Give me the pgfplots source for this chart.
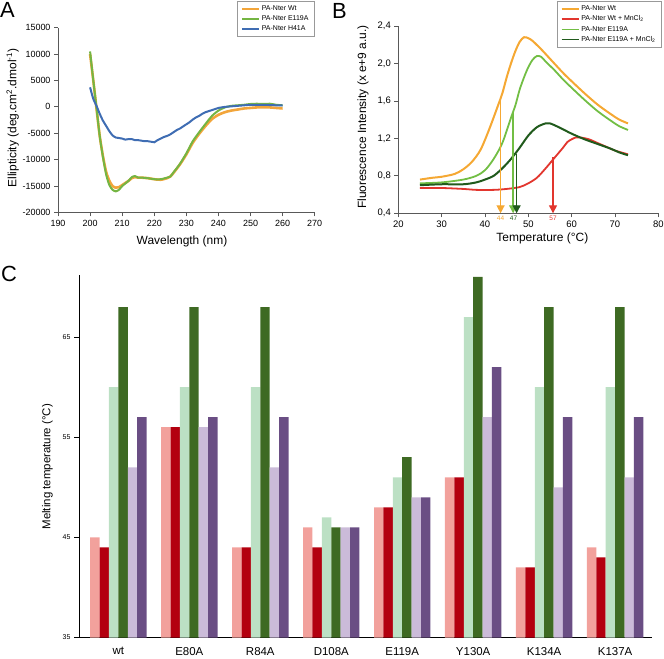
\documentclass[border=0pt]{standalone}
\usepackage{fontspec}
\setmainfont{Liberation Sans}
\usepackage{pgfplots}
\pgfplotsset{compat=1.18}
\usetikzlibrary{arrows.meta}
\definecolor{aorange}{HTML}{F2A53A}
\definecolor{agreen}{HTML}{74B543}
\definecolor{ablue}{HTML}{3F6DB3}
\definecolor{borange}{HTML}{F5A833}
\definecolor{bred}{HTML}{E2362E}
\definecolor{bgreen}{HTML}{72BE44}
\definecolor{bdgreen}{HTML}{205A1C}
\definecolor{cpink}{HTML}{F2A19C}
\definecolor{cred}{HTML}{B3000F}
\definecolor{clgreen}{HTML}{BCE0C4}
\definecolor{cdgreen}{HTML}{3E6A23}
\definecolor{clpurple}{HTML}{CBBBD9}
\definecolor{cpurple}{HTML}{6A4E84}
\pgfplotsset{
  every axis/.append style={/pgf/number format/assume math mode=true},
  mylegend/.style={
    legend cell align=left,
    legend style={draw=gray!80, line width=0.6bp, fill=white,
      font=\fontsize{7}{8}\selectfont, inner xsep=4bp, inner ysep=2.5bp,
      nodes={inner sep=1.9bp}},
    legend image code/.code={\draw[##1, line width=1.5bp] (0bp,0bp) -- (17bp,0bp);},
  },
}
\begin{document}
\begin{tikzpicture}[x=1bp,y=1bp]
\path[use as bounding box] (0,0) rectangle (664,659);
% panel letters
\node[anchor=north west, inner sep=0pt, font=\fontsize{22}{22}\selectfont] at (0,657) {A};
\node[anchor=north west, inner sep=0pt, font=\fontsize{22}{22}\selectfont] at (332,656) {B};
\node[anchor=north west, inner sep=0pt, font=\fontsize{22}{22}\selectfont] at (1,393) {C};

% ---------------- Panel A ----------------
\begin{axis}[
  at={(58bp,446.5bp)}, anchor=south west, scale only axis,
  width=256.7bp, height=184.8bp,
  xmin=190, xmax=270, ymin=-20000, ymax=15000,
  xtick={190,200,...,270}, ytick={-20000,-15000,...,15000},
  scaled y ticks=false,
  yticklabel style={/pgf/number format/1000 sep={}},
  axis lines*=left, axis line style={-, draw=gray!70!black, line width=0.8bp},
  tick align=outside, major tick length=4bp,
  tick style={draw=gray!70!black, line width=0.8bp},
  ticklabel style={font=\fontsize{9}{10}\selectfont},
  xlabel={Wavelength (nm)},
  ylabel={Ellipticity (deg.cm\textsuperscript{2}.dmol\textsuperscript{-1})},
  label style={font=\fontsize{12}{13}\selectfont},
  xlabel style={at={(axis description cs:0.483,-0.158)}, anchor=center},
  ylabel style={at={(axis description cs:-0.1765,0.511)}, anchor=center},
  mylegend,
  legend style={at={(1.0,1.1445)}, anchor=north east},
]
\addplot[aorange, line width=2.6bp, smooth, tension=0.4] coordinates {
(200,10000)(201,5000)(202,-300)(203,-5500)(204,-9300)(205,-12300)(206,-14000)(207,-15000)(208,-15300)(209,-15200)(210,-14800)(211,-14400)(212,-14000)(213,-13500)(214,-13300)(215,-13400)(216,-13400)(218,-13500)(220,-13700)(222,-13800)(224,-13500)(225,-13200)(226,-12500)(228,-10900)(230,-9000)(232,-6800)(234,-5100)(236,-3600)(238,-2300)(240,-1500)(242,-1000)(244,-700)(246,-500)(248,-300)(250,-200)(252,-100)(254,-100)(256,-100)(258,-200)(260,-300)};
\addlegendentry{PA-Nter Wt}
\addplot[agreen, line width=2.0bp, smooth, tension=0.4] coordinates {
(200,10500)(201,5000)(202,-200)(203,-5500)(204,-9500)(205,-12800)(206,-14800)(207,-15700)(208,-16000)(209,-15700)(210,-15000)(211,-14500)(212,-14000)(213,-13300)(214,-13100)(215,-13400)(216,-13400)(218,-13500)(220,-13700)(222,-13700)(224,-13400)(225,-13200)(226,-12400)(228,-10800)(230,-8800)(232,-6500)(234,-4800)(236,-3200)(238,-1700)(240,-700)(242,-100)(244,200)(246,300)(248,400)(250,550)(252,600)(254,550)(256,600)(258,400)(260,300)};
\addlegendentry{PA-Nter E119A}
\addplot[ablue, line width=2.0bp, smooth, tension=0.4] coordinates {
(200,3700)(201,1500)(202,200)(203,-1300)(204,-2600)(205,-3600)(206,-4600)(207,-5400)(208,-5800)(209,-5900)(210,-6000)(211,-6200)(212,-6100)(213,-6100)(214,-6300)(215,-6300)(216,-6400)(217,-6500)(218,-6500)(219,-6600)(220,-6700)(221,-6300)(222,-6000)(223,-5700)(224,-5500)(225,-5200)(226,-4800)(227,-4400)(228,-4100)(229,-3700)(230,-3300)(231,-2900)(232,-2400)(233,-2000)(234,-1700)(235,-1300)(236,-1000)(237,-800)(238,-600)(239,-400)(240,-200)(242,0)(244,100)(246,200)(248,300)(250,400)(252,400)(254,400)(256,350)(258,300)(260,300)};
\addlegendentry{PA-Nter H41A}
\end{axis}

% ---------------- Panel B ----------------
\begin{axis}[
  at={(398.3bp,445.7bp)}, anchor=south west, scale only axis,
  width=260bp, height=187.3bp,
  xmin=20, xmax=80, ymin=0.4, ymax=2.4,
  xtick={20,30,...,80}, ytick={0.4,0.8,...,2.4},
  yticklabel style={/pgf/number format/.cd, use comma, fixed, precision=1, fixed zerofill},
  axis lines*=left, axis line style={-, draw=gray!70!black, line width=0.8bp},
  tick align=outside, major tick length=4bp,
  tick style={draw=gray!70!black, line width=0.8bp},
  ticklabel style={font=\fontsize{9.5}{10}\selectfont},
  xlabel={Temperature (°C)},
  ylabel={Fluorescence Intensity (x e+9 a.u.)},
  label style={font=\fontsize{12}{13}\selectfont},
  xlabel style={at={(axis description cs:0.554,-0.132)}, anchor=center},
  ylabel style={at={(axis description cs:-0.136,0.514)}, anchor=center},
  clip=false,
  mylegend,
  legend style={at={(1.013,1.133)}, anchor=north east},
]
\addplot[borange, line width=2.0bp, smooth] coordinates {
(25,0.76)(28,0.78)(30,0.79)(33,0.82)(35,0.87)(37,0.95)(39,1.08)(41,1.30)(43,1.55)(44,1.68)(45,1.85)(46,2.00)(47,2.13)(48,2.23)(49,2.28)(50,2.27)(51,2.24)(53,2.15)(55,2.05)(58,1.90)(60,1.81)(63,1.68)(66,1.56)(69,1.46)(71,1.40)(73,1.36)};
\addlegendentry{PA-Nter Wt}
\addplot[bred, line width=1.8bp, smooth] coordinates {
(25,0.67)(30,0.67)(35,0.66)(38,0.65)(42,0.65)(45,0.66)(48,0.68)(50,0.72)(52,0.78)(54,0.88)(56,0.99)(58,1.10)(59,1.16)(60,1.19)(61,1.21)(62,1.21)(64,1.19)(66,1.15)(68,1.11)(70,1.07)(73,1.03)};
\addlegendentry{PA-Nter Wt + MnCl\textsubscript{2}}
\addplot[bgreen, line width=1.8bp, smooth] coordinates {
(25,0.72)(30,0.73)(35,0.76)(38,0.80)(40,0.86)(42,0.98)(44,1.15)(46,1.42)(47,1.55)(48,1.72)(49,1.85)(50,1.96)(51,2.04)(52,2.08)(53,2.07)(54,2.02)(56,1.93)(58,1.83)(60,1.74)(63,1.61)(66,1.49)(69,1.39)(71,1.33)(73,1.29)};
\addlegendentry{PA-Nter E119A}
\addplot[bdgreen, line width=2.0bp, smooth] coordinates {
(25,0.70)(30,0.71)(35,0.71)(38,0.73)(40,0.76)(42,0.80)(44,0.88)(46,0.98)(48,1.10)(50,1.23)(52,1.32)(54,1.36)(55,1.36)(57,1.32)(60,1.25)(63,1.19)(66,1.14)(69,1.09)(71,1.05)(73,1.02)};
\addlegendentry{PA-Nter E119A + MnCl\textsubscript{2}}
% arrows
\addplot[borange, line width=1.4bp, -{Triangle[width=8bp,length=8bp]}, forget plot] coordinates {(43.6,1.63)(43.6,0.4)};
\addplot[bgreen, line width=1.4bp, -{Triangle[width=8bp,length=8bp]}, forget plot] coordinates {(46.5,1.48)(46.5,0.4)};
\addplot[bdgreen, line width=1.4bp, -{Triangle[width=8bp,length=8bp]}, forget plot] coordinates {(47.3,1.03)(47.3,0.4)};
\addplot[bred, line width=1.4bp, -{Triangle[width=8bp,length=8bp]}, forget plot] coordinates {(55.7,1.00)(55.7,0.4)};
\node[borange, font=\fontsize{6.5}{7}\selectfont, anchor=north, inner sep=1bp] at (axis cs:43.6,0.38) {44};
\node[bdgreen, font=\fontsize{6.5}{7}\selectfont, anchor=north, inner sep=1bp] at (axis cs:46.6,0.38) {47};
\node[bred, font=\fontsize{6.5}{7}\selectfont, anchor=north, inner sep=1bp] at (axis cs:55.7,0.38) {57};
\end{axis}

% ---------------- Panel C ----------------
\begin{axis}[
  at={(79bp,21.5bp)}, anchor=south west, scale only axis,
  width=573bp, height=362.5bp,
  xmin=-0.555, xmax=7.52, ymin=35, ymax=71.2,
  ybar=0pt, bar width=9.4bp,
  xtick={0,...,7},
  xticklabels={wt,E80A,R84A,D108A,E119A,Y130A,K134A,K137A},
  ytick={35,45,55,65},
  axis x line*=bottom, axis y line*=left,
  axis line style={-, draw=black, line width=1bp},
  x tick style={draw=none},
  y tick style={draw=black, line width=0.8bp},
  tick align=outside, major tick length=5bp,
  yticklabel style={font=\fontsize{7}{8}\selectfont},
  xticklabel style={font=\fontsize{11.5}{12}\selectfont, yshift=-1bp},
  ylabel={Melting temperature (°C)},
  ylabel style={at={(axis description cs:-0.0553,0.471)}, anchor=center, font=\fontsize{11.5}{12}\selectfont},
]
\addplot[draw=none, fill=cpink] coordinates {(0,45)(1,56)(2,44)(3,46)(4,48)(5,51)(6,42)(7,44)};
\addplot[draw=none, fill=cred] coordinates {(0,44)(1,56)(2,44)(3,44)(4,48)(5,51)(6,42)(7,43)};
\addplot[draw=none, fill=clgreen] coordinates {(0,60)(1,60)(2,60)(3,47)(4,51)(5,67)(6,60)(7,60)};
\addplot[draw=none, fill=cdgreen] coordinates {(0,68)(1,68)(2,68)(3,46)(4,53)(5,71)(6,68)(7,68)};
\addplot[draw=none, fill=clpurple] coordinates {(0,52)(1,56)(2,52)(3,46)(4,49)(5,57)(6,50)(7,51)};
\addplot[draw=none, fill=cpurple] coordinates {(0,57)(1,57)(2,57)(3,46)(4,49)(5,62)(6,57)(7,57)};
\end{axis}
\end{tikzpicture}
\end{document}
